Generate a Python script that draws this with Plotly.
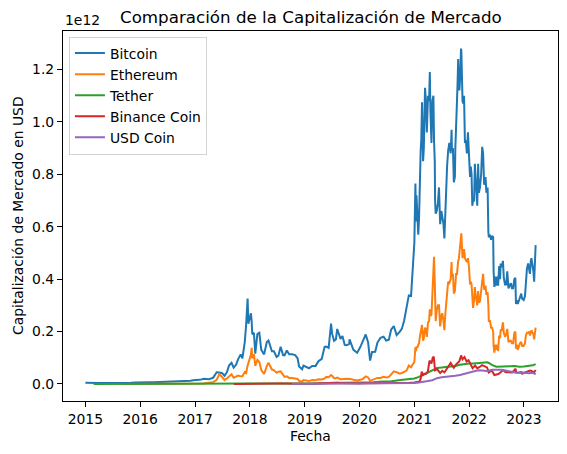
import plotly.graph_objects as go

# Fechas compartidas por Bitcoin y Ethereum
fechas = [
    # 2015
    "2015-01-01", "2015-02-01", "2015-03-01", "2015-04-01", "2015-05-01", "2015-06-01",
    "2015-07-01", "2015-08-01", "2015-09-01", "2015-10-01", "2015-11-01", "2015-12-01",
    # 2016
    "2016-01-01", "2016-02-01", "2016-03-01", "2016-04-01", "2016-05-01", "2016-06-01",
    "2016-07-01", "2016-08-01", "2016-09-01", "2016-10-01", "2016-11-01", "2016-12-01",
    # 2017
    "2017-01-01", "2017-02-01", "2017-03-01", "2017-04-01", "2017-05-01", "2017-05-25",
    "2017-06-12", "2017-07-01", "2017-07-16", "2017-08-01", "2017-08-15", "2017-09-01",
    "2017-09-15", "2017-10-01", "2017-10-15", "2017-11-01", "2017-11-12", "2017-11-28",
    "2017-12-07", "2017-12-17", "2017-12-22",
    # 2018
    "2018-01-08", "2018-01-13", "2018-01-17", "2018-01-28", "2018-02-06", "2018-02-20",
    "2018-03-05", "2018-03-18", "2018-04-06", "2018-04-24", "2018-05-05", "2018-05-28",
    "2018-06-10", "2018-06-28", "2018-07-10", "2018-07-25", "2018-08-10", "2018-08-20",
    "2018-09-04", "2018-09-20", "2018-10-10", "2018-10-30", "2018-11-15", "2018-11-25",
    "2018-12-15", "2018-12-24",
    # 2019
    "2019-01-10", "2019-01-30", "2019-02-20", "2019-03-15", "2019-04-03", "2019-04-25",
    "2019-05-14", "2019-05-25", "2019-06-10", "2019-06-26", "2019-07-03", "2019-07-16",
    "2019-07-28", "2019-08-06", "2019-08-28", "2019-09-10", "2019-09-25", "2019-10-08",
    "2019-10-25", "2019-10-27", "2019-11-22", "2019-12-17",
    # 2020
    "2020-01-06", "2020-01-20", "2020-02-12", "2020-02-28", "2020-03-12", "2020-03-25",
    "2020-04-15", "2020-04-30", "2020-05-20", "2020-06-10", "2020-06-27", "2020-07-15",
    "2020-07-30", "2020-08-17", "2020-09-05", "2020-09-25", "2020-10-10", "2020-10-25",
    "2020-11-10", "2020-11-25", "2020-12-10", "2020-12-20",
    # 2021
    "2021-01-01", "2021-01-08", "2021-01-12", "2021-01-15", "2021-01-22", "2021-01-27",
    "2021-02-01", "2021-02-08", "2021-02-12", "2021-02-16", "2021-02-21", "2021-02-28",
    "2021-03-05", "2021-03-13", "2021-03-18", "2021-03-25", "2021-04-02", "2021-04-09",
    "2021-04-14", "2021-04-18", "2021-04-25", "2021-05-01", "2021-05-08", "2021-05-12",
    "2021-05-17", "2021-05-19", "2021-05-23", "2021-05-30", "2021-06-07", "2021-06-14",
    "2021-06-22", "2021-06-30", "2021-07-06", "2021-07-14", "2021-07-20", "2021-07-26",
    "2021-08-01", "2021-08-07", "2021-08-14", "2021-08-22", "2021-08-31", "2021-09-06",
    "2021-09-08", "2021-09-15", "2021-09-21", "2021-09-28", "2021-10-01", "2021-10-06",
    "2021-10-12", "2021-10-16", "2021-10-20", "2021-10-24", "2021-10-28", "2021-11-02",
    "2021-11-08", "2021-11-10", "2021-11-18", "2021-11-22", "2021-11-28", "2021-12-04",
    "2021-12-10", "2021-12-17", "2021-12-24", "2021-12-31",
    # 2022
    "2022-01-07", "2022-01-12", "2022-01-17", "2022-01-22", "2022-01-27", "2022-02-03",
    "2022-02-08", "2022-02-12", "2022-02-17", "2022-02-24", "2022-03-02", "2022-03-07",
    "2022-03-14", "2022-03-22", "2022-03-29", "2022-04-04", "2022-04-11", "2022-04-20",
    "2022-04-26", "2022-05-04", "2022-05-09", "2022-05-12", "2022-05-20", "2022-05-27",
    "2022-06-03", "2022-06-10", "2022-06-13", "2022-06-18", "2022-06-25", "2022-07-01",
    "2022-07-08", "2022-07-13", "2022-07-20", "2022-07-26", "2022-07-30", "2022-08-06",
    "2022-08-14", "2022-08-20", "2022-08-28", "2022-09-05", "2022-09-12", "2022-09-20",
    "2022-09-28", "2022-10-06", "2022-10-13", "2022-10-21", "2022-10-29", "2022-11-05",
    "2022-11-09", "2022-11-15", "2022-11-21", "2022-11-28", "2022-12-05", "2022-12-14",
    "2022-12-20", "2022-12-30",
    # 2023
    "2023-01-08", "2023-01-14", "2023-01-21", "2023-01-29", "2023-02-05", "2023-02-10",
    "2023-02-16", "2023-02-20", "2023-02-28", "2023-03-05", "2023-03-10", "2023-03-14",
    "2023-03-17", "2023-03-20",
]

# Capitalizacion en unidades de 1e12 USD
bitcoin = [
    0.0044, 0.0032, 0.0036, 0.0035, 0.0033, 0.0032, 0.0037, 0.0041, 0.0034, 0.0035, 0.0047, 0.0054,
    0.0065, 0.0057, 0.0066, 0.0064, 0.0070, 0.0084, 0.0105, 0.0096, 0.0090, 0.0098, 0.0116, 0.0122,
    0.0155, 0.0157, 0.0197, 0.0177, 0.0235, 0.0450, 0.0440, 0.0410, 0.0310, 0.0450, 0.0700, 0.0810,
    0.0620, 0.0730, 0.0950, 0.1130, 0.0980, 0.1600, 0.2250, 0.3260, 0.2300,
    0.2700, 0.2400, 0.1900, 0.1950, 0.1160, 0.1900, 0.1950, 0.1300, 0.1130, 0.1600, 0.1660, 0.1250,
    0.1250, 0.1030, 0.1080, 0.1420, 0.1100, 0.1090, 0.1280, 0.1130, 0.1130, 0.1100, 0.0980, 0.0670,
    0.0560, 0.0700,
    0.0650, 0.0600, 0.0690, 0.0690, 0.0870, 0.0960, 0.1420, 0.1430, 0.1380, 0.2300, 0.1920, 0.1650,
    0.1700, 0.2100, 0.1720, 0.1830, 0.1490, 0.1480, 0.1530, 0.1700, 0.1300, 0.1190,
    0.1400, 0.1570, 0.1890, 0.1580, 0.0890, 0.1220, 0.1230, 0.1580, 0.1760, 0.1800, 0.1660, 0.1690,
    0.2070, 0.2210, 0.1870, 0.1990, 0.2110, 0.2420, 0.2850, 0.3380, 0.3360, 0.4360,
    # 2021
    0.540, 0.765, 0.620, 0.720, 0.590, 0.570,
    0.630, 0.860, 0.890, 0.930, 1.075, 0.850,
    0.900, 1.130, 1.090, 0.960, 1.100, 1.080,
    1.190, 1.040, 0.920, 1.080, 1.100, 0.930,
    0.850, 0.700, 0.650, 0.660, 0.690, 0.750,
    0.610, 0.660, 0.640, 0.610, 0.555, 0.680,
    0.760, 0.830, 0.890, 0.920, 0.880, 0.970,
    0.890, 0.900, 0.770, 0.790, 0.900, 1.030,
    1.080, 1.150, 1.240, 1.150, 1.120, 1.170,
    1.280, 1.270, 1.080, 1.070, 1.100, 0.920,
    0.930, 0.880, 0.960, 0.880,
    # 2022
    0.790, 0.830, 0.800, 0.680, 0.700, 0.700,
    0.840, 0.800, 0.760, 0.680, 0.840, 0.730,
    0.750, 0.800, 0.905, 0.880, 0.760, 0.790,
    0.730, 0.750, 0.580, 0.560, 0.570, 0.550,
    0.565, 0.560, 0.430, 0.370, 0.410, 0.375,
    0.410, 0.375, 0.450, 0.400, 0.460, 0.445,
    0.470, 0.405, 0.380, 0.380, 0.430, 0.365,
    0.375, 0.385, 0.365, 0.365, 0.400, 0.405,
    0.305, 0.320, 0.305, 0.315, 0.330, 0.345,
    0.325, 0.320,
    # 2023
    0.335, 0.400, 0.440, 0.460, 0.440, 0.420,
    0.470, 0.480, 0.450, 0.430, 0.390, 0.470,
    0.520, 0.530,
]

ethereum = [
    None, None, None, None, None, None, None, None, 0.0001, 0.00005, 0.00007, 0.00007,
    0.00007, 0.0002, 0.0007, 0.0009, 0.0007, 0.0011, 0.0010, 0.0009, 0.0010, 0.0011, 0.0009, 0.0007,
    0.0007, 0.0010, 0.0015, 0.0045, 0.0070, 0.0160, 0.0370, 0.0260, 0.0150, 0.0210, 0.0280, 0.0370,
    0.0240, 0.0290, 0.0320, 0.0290, 0.0290, 0.0460, 0.0420, 0.0700, 0.0800,
    0.1110, 0.1380, 0.0980, 0.1140, 0.0690, 0.0920, 0.0840, 0.0530, 0.0380, 0.0690, 0.0810, 0.0550,
    0.0530, 0.0430, 0.0470, 0.0480, 0.0330, 0.0270, 0.0290, 0.0230, 0.0230, 0.0200, 0.0190, 0.0120,
    0.0088, 0.0150,
    0.0130, 0.0110, 0.0150, 0.0140, 0.0180, 0.0170, 0.0210, 0.0270, 0.0260, 0.0340, 0.0310, 0.0220,
    0.0220, 0.0240, 0.0180, 0.0190, 0.0180, 0.0200, 0.0190, 0.0200, 0.0160, 0.0130,
    0.0160, 0.0180, 0.0290, 0.0250, 0.0120, 0.0150, 0.0170, 0.0230, 0.0230, 0.0270, 0.0250, 0.0270,
    0.0360, 0.0480, 0.0450, 0.0390, 0.0420, 0.0460, 0.0510, 0.0700, 0.0640, 0.0740,
    # 2021
    0.084, 0.140, 0.125, 0.140, 0.140, 0.150,
    0.155, 0.185, 0.205, 0.205, 0.225, 0.165,
    0.175, 0.215, 0.210, 0.180, 0.235, 0.240,
    0.285, 0.260, 0.265, 0.340, 0.440, 0.485,
    0.390, 0.290, 0.240, 0.280, 0.300, 0.300,
    0.220, 0.260, 0.270, 0.240, 0.205, 0.265,
    0.300, 0.360, 0.390, 0.385, 0.400, 0.465,
    0.410, 0.420, 0.345, 0.355, 0.390, 0.420,
    0.420, 0.460, 0.470, 0.475, 0.500, 0.535,
    0.560, 0.575, 0.480, 0.500, 0.515, 0.480,
    0.470, 0.465, 0.480, 0.445,
    # 2022
    0.380, 0.390, 0.380, 0.290, 0.290, 0.320,
    0.370, 0.345, 0.330, 0.300, 0.355, 0.310,
    0.315, 0.360, 0.410, 0.420, 0.360, 0.375,
    0.340, 0.350, 0.300, 0.240, 0.240, 0.215,
    0.215, 0.200, 0.145, 0.120, 0.150, 0.130,
    0.150, 0.125, 0.185, 0.175, 0.205, 0.205,
    0.235, 0.195, 0.180, 0.190, 0.210, 0.160,
    0.165, 0.165, 0.155, 0.155, 0.195, 0.200,
    0.135, 0.150, 0.130, 0.140, 0.155, 0.160,
    0.145, 0.145,
    # 2023
    0.155, 0.185, 0.195, 0.195, 0.200, 0.185,
    0.205, 0.205, 0.195, 0.190, 0.170, 0.205,
    0.215, 0.215,
]

fechas_tether = [
    "2015-02-25", "2015-06-01", "2016-01-01", "2016-06-01", "2017-01-01", "2017-06-01",
    "2017-10-01", "2018-01-01", "2018-04-01", "2018-07-01", "2018-10-01", "2018-12-01",
    "2019-03-01", "2019-06-01", "2019-09-01", "2019-12-01", "2020-03-01", "2020-04-01",
    "2020-06-01", "2020-08-01", "2020-10-01", "2020-12-01", "2021-01-01", "2021-02-01",
    "2021-03-01", "2021-04-01", "2021-05-01", "2021-06-01", "2021-07-01", "2021-08-01",
    "2021-09-01", "2021-10-01", "2021-11-01", "2021-12-01", "2022-01-01", "2022-02-01",
    "2022-03-01", "2022-04-01", "2022-05-01", "2022-05-12", "2022-06-01", "2022-07-01",
    "2022-08-01", "2022-09-01", "2022-10-01", "2022-11-01", "2022-12-01", "2023-01-01",
    "2023-02-01", "2023-03-01", "2023-03-20",
]
tether = [
    0.0, 0.0, 0.000001, 0.000005, 0.00001, 0.0001,
    0.0004, 0.0014, 0.0023, 0.0027, 0.0028, 0.0019,
    0.0020, 0.0033, 0.0040, 0.0041, 0.0046, 0.0064,
    0.0091, 0.0100, 0.0155, 0.0190, 0.0210, 0.0270,
    0.0350, 0.0410, 0.0500, 0.0610, 0.0626, 0.0640,
    0.0660, 0.0690, 0.0730, 0.0760, 0.0780, 0.0780,
    0.0790, 0.0820, 0.0830, 0.0800, 0.0730, 0.0660,
    0.0660, 0.0675, 0.0680, 0.0690, 0.0660, 0.0663,
    0.0680, 0.0710, 0.0760,
]

fechas_binance = [
    "2017-09-16", "2017-10-01", "2017-11-01", "2017-12-01", "2018-01-01", "2018-01-15",
    "2018-02-01", "2018-03-01", "2018-04-01", "2018-05-01", "2018-06-01", "2018-07-01",
    "2018-08-01", "2018-09-01", "2018-10-01", "2018-11-01", "2018-12-01", "2019-01-01",
    "2019-02-01", "2019-03-01", "2019-04-01", "2019-05-01", "2019-06-01", "2019-06-22",
    "2019-07-15", "2019-08-01", "2019-09-01", "2019-10-01", "2019-11-01", "2019-12-01",
    "2020-01-01", "2020-02-01", "2020-03-01", "2020-03-15", "2020-04-01", "2020-05-01",
    "2020-06-01", "2020-07-01", "2020-08-01", "2020-09-01", "2020-10-01", "2020-11-01",
    "2020-12-01", "2021-01-01", "2021-01-20", "2021-02-05", "2021-02-12", "2021-02-19",
    "2021-02-28", "2021-03-10", "2021-03-20", "2021-04-01", "2021-04-12", "2021-04-25",
    "2021-05-03", "2021-05-10", "2021-05-19", "2021-06-01", "2021-06-22", "2021-07-06",
    "2021-07-20", "2021-08-01", "2021-08-14", "2021-08-31", "2021-09-10", "2021-09-21",
    "2021-10-01", "2021-10-15", "2021-10-28", "2021-11-08", "2021-11-18", "2021-12-01",
    "2021-12-15", "2021-12-28", "2022-01-10", "2022-01-24", "2022-02-10", "2022-02-24",
    "2022-03-10", "2022-03-28", "2022-04-12", "2022-04-30", "2022-05-12", "2022-05-31",
    "2022-06-18", "2022-07-01", "2022-07-15", "2022-08-01", "2022-08-14", "2022-09-01",
    "2022-09-15", "2022-10-01", "2022-10-15", "2022-11-07", "2022-11-10", "2022-11-21",
    "2022-12-14", "2022-12-20", "2023-01-10", "2023-01-29", "2023-02-10", "2023-02-20",
    "2023-03-10", "2023-03-20",
]
binance = [
    0.0002, 0.0001, 0.0002, 0.0002, 0.0009, 0.0020,
    0.0011, 0.0011, 0.0011, 0.0016, 0.0014, 0.0015,
    0.0018, 0.0011, 0.0014, 0.0013, 0.0007, 0.0008,
    0.0010, 0.0017, 0.0025, 0.0030, 0.0050, 0.0055,
    0.0040, 0.0045, 0.0035, 0.0025, 0.0031, 0.0024,
    0.0022, 0.0030, 0.0031, 0.0017, 0.0019, 0.0026,
    0.0027, 0.0025, 0.0032, 0.0035, 0.0044, 0.0040,
    0.0044, 0.0058, 0.0063, 0.0095, 0.0200, 0.0470,
    0.0340, 0.0390, 0.0390, 0.0480, 0.0890, 0.0780,
    0.1000, 0.1040, 0.0520, 0.0570, 0.0420, 0.0500,
    0.0440, 0.0550, 0.0660, 0.0800, 0.0700, 0.0620,
    0.0710, 0.0800, 0.0870, 0.1090, 0.0940, 0.1030,
    0.0860, 0.0910, 0.0750, 0.0600, 0.0700, 0.0600,
    0.0640, 0.0720, 0.0680, 0.0630, 0.0440, 0.0520,
    0.0340, 0.0350, 0.0380, 0.0460, 0.0530, 0.0450,
    0.0450, 0.0460, 0.0440, 0.0580, 0.0440, 0.0430,
    0.0450, 0.0390, 0.0440, 0.0500, 0.0510, 0.0500,
    0.0440, 0.0530,
]

fechas_usdc = [
    "2018-10-08", "2018-11-01", "2019-01-01", "2019-04-01", "2019-07-01", "2019-10-01",
    "2020-01-01", "2020-03-01", "2020-04-01", "2020-05-01", "2020-07-01", "2020-08-01",
    "2020-09-01", "2020-10-01", "2020-11-01", "2020-12-01", "2021-01-01", "2021-02-01",
    "2021-03-01", "2021-04-01", "2021-05-01", "2021-06-01", "2021-07-01", "2021-08-01",
    "2021-09-01", "2021-10-01", "2021-11-01", "2021-12-01", "2022-01-01", "2022-02-01",
    "2022-03-01", "2022-04-01", "2022-05-01", "2022-06-01", "2022-07-01", "2022-08-01",
    "2022-09-01", "2022-10-01", "2022-11-01", "2022-12-01", "2023-01-01", "2023-02-01",
    "2023-03-01", "2023-03-11", "2023-03-20",
]
usdc = [
    0.00001, 0.0001, 0.0003, 0.0003, 0.0004, 0.0005,
    0.0005, 0.0006, 0.0007, 0.0009, 0.0012, 0.0016,
    0.0022, 0.0027, 0.0029, 0.0030, 0.0040, 0.0060,
    0.0097, 0.0110, 0.0145, 0.0220, 0.0256, 0.0270,
    0.0276, 0.0310, 0.0340, 0.0390, 0.0425, 0.0480,
    0.0520, 0.0510, 0.0490, 0.0540, 0.0553, 0.0545,
    0.0510, 0.0470, 0.0440, 0.0432, 0.0440, 0.0410,
    0.0430, 0.0400, 0.0370,
]

assert len(fechas) == len(bitcoin) == len(ethereum)
assert len(fechas_tether) == len(tether)
assert len(fechas_binance) == len(binance)
assert len(fechas_usdc) == len(usdc)

y_ticks = [0.0, 0.2, 0.4, 0.6, 0.8, 1.0, 1.2]
y_labels = ["0.0", "0.2", "0.4", "0.6", "0.8", "1.0", "1.2"]
x_ticks = ["2015-01-01", "2016-01-01", "2017-01-01", "2018-01-01", "2019-01-01",
           "2020-01-01", "2021-01-01", "2022-01-01", "2023-01-01"]
x_labels = ["2015", "2016", "2017", "2018", "2019", "2020", "2021", "2022", "2023"]

series = [
    ("Bitcoin", fechas, bitcoin, "#1f77b4"),
    ("Ethereum", fechas, ethereum, "#ff7f0e"),
    ("Tether", fechas_tether, tether, "#2ca02c"),
    ("Binance Coin", fechas_binance, binance, "#d62728"),
    ("USD Coin", fechas_usdc, usdc, "#9467bd"),
]

fig = go.Figure()
for name, x, y, color in series:
    fig.add_trace(go.Scatter(x=x, y=y, mode="lines", name=name,
                             line=dict(color=color, width=2)))

font = "DejaVu Sans, Arial, sans-serif"
# the page body adds 8px around the figure, so the figure is 8px smaller
fig.update_layout(
    width=559, height=446,
    margin=dict(l=55, r=9, t=23, b=53),
    paper_bgcolor="white", plot_bgcolor="white",
    font=dict(family=font, size=13.9, color="black"),
    showlegend=True,
    legend=dict(x=0.012, y=0.985, xanchor="left", yanchor="top",
                bgcolor="rgba(255,255,255,0.8)", bordercolor="#d3d3d3", borderwidth=1,
                font=dict(size=13.9), tracegroupgap=0),
    annotations=[
        dict(text="Comparación de la Capitalización de Mercado", x=0.5, y=1,
             xref="paper", yref="paper", xanchor="center", yanchor="middle",
             yshift=14, showarrow=False, font=dict(size=16.7)),
        dict(text="1e12", x=0, y=1, xref="paper", yref="paper", xanchor="left",
             yanchor="bottom", yshift=1, showarrow=False),
        dict(text="Fecha", x=0.5, y=0, xref="paper", yref="paper", xanchor="center",
             yanchor="middle", yshift=-35, showarrow=False),
        dict(text="Capitalización de Mercado en USD", x=0, y=0.5, xref="paper", yref="paper",
             xanchor="center", yanchor="middle", xshift=-45, textangle=-90, showarrow=False),
    ],
)

fig.update_xaxes(
    range=["2014-08-05", "2023-08-16"],
    tickvals=x_ticks, ticktext=x_labels,
    showgrid=False, zeroline=False,
    showline=True, mirror=True, linecolor="black", linewidth=1.1,
    ticks="outside", ticklen=5, tickwidth=1.1, tickcolor="black",
)
fig.update_yaxes(
    range=[-0.065, 1.347],
    tickvals=y_ticks, ticktext=y_labels,
    showgrid=False, zeroline=False,
    showline=True, mirror=True, linecolor="black", linewidth=1.1,
    ticks="outside", ticklen=5, tickwidth=1.1, tickcolor="black",
)

fig.write_html("out.html")
